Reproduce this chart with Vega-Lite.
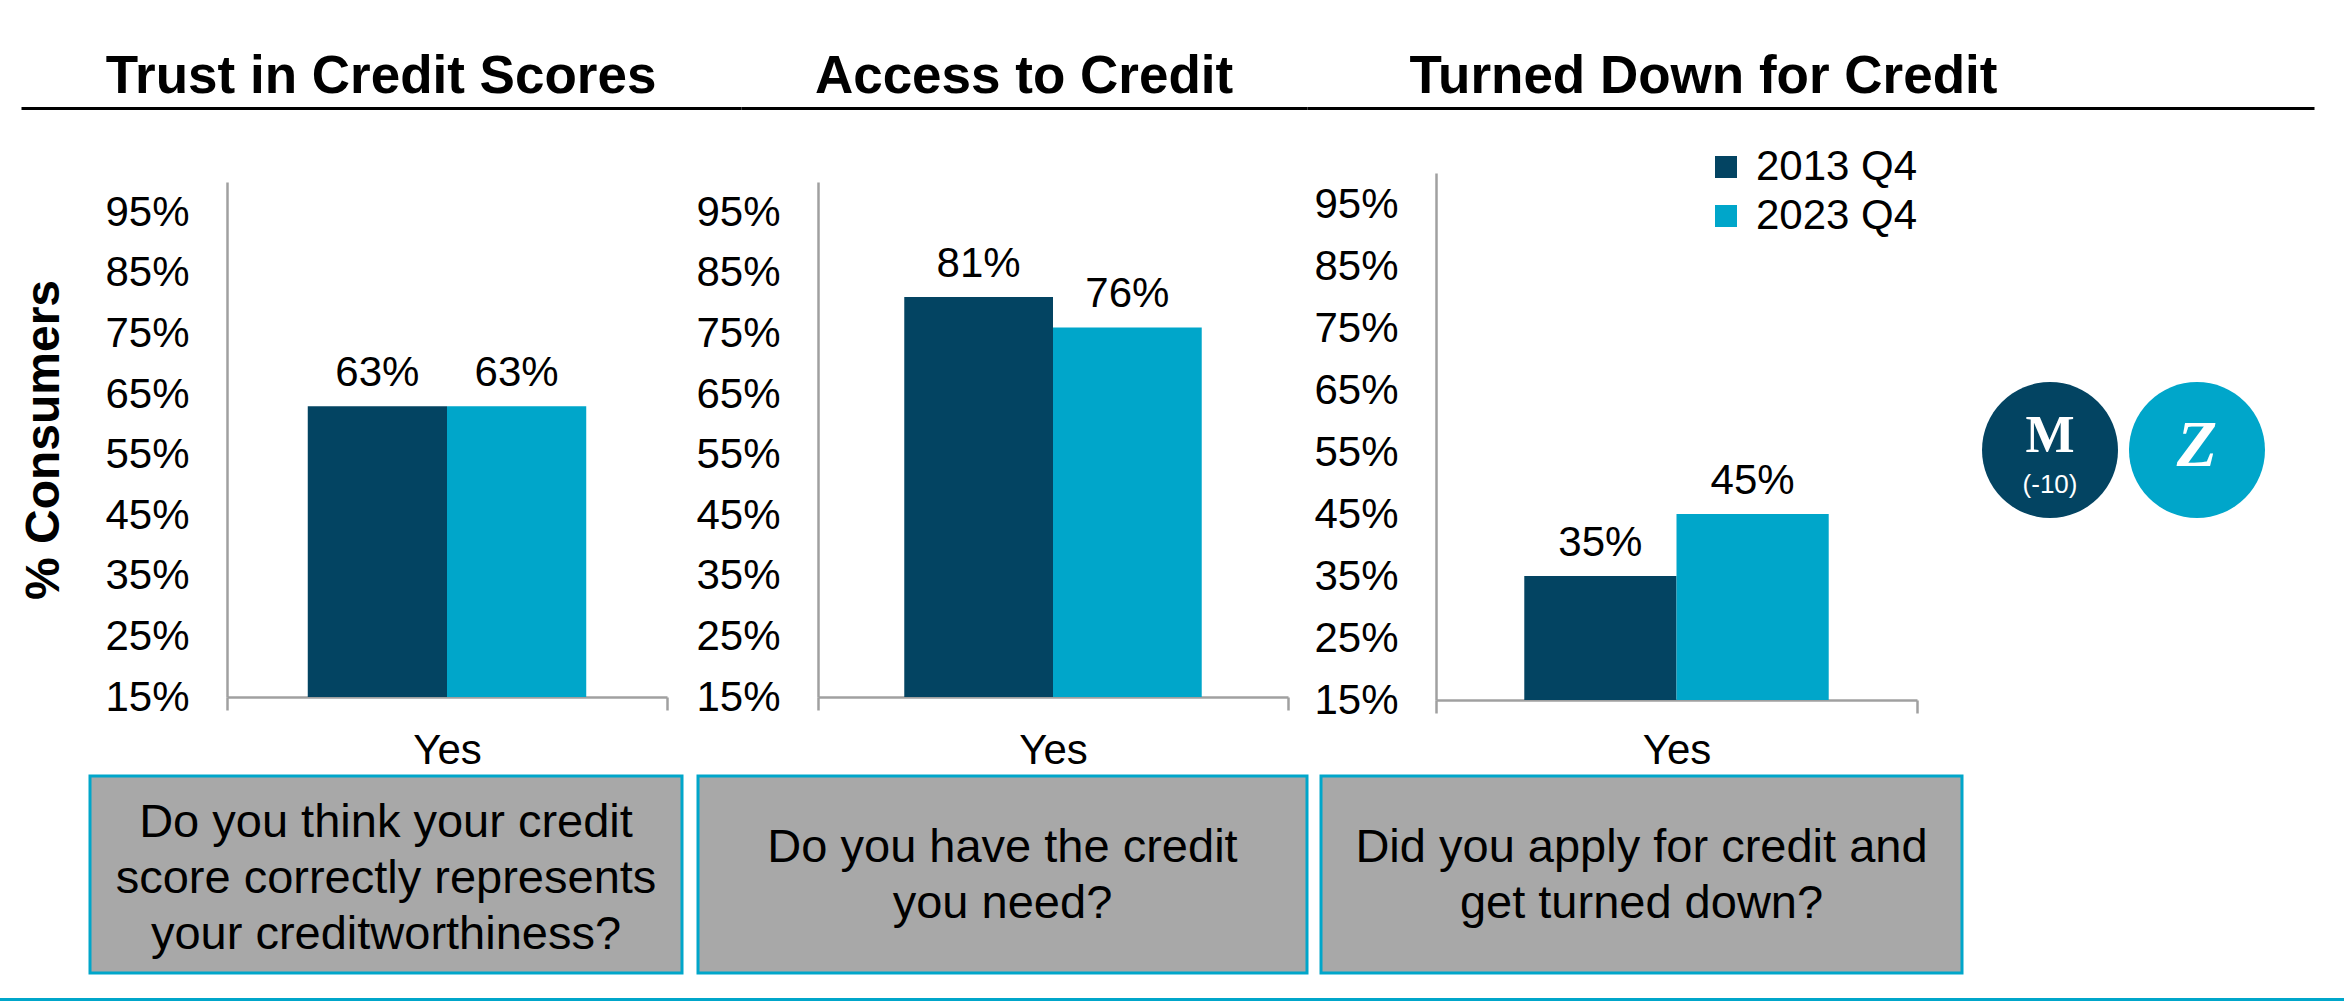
{
  "$schema": "https://vega.github.io/schema/vega-lite/v6.json",
  "padding": 0,
  "background": "white",
  "spacing": 0,
  "align": "each",
  "resolve": {
    "scale": {"color": "independent", "x": "independent", "y": "independent", "xOffset": "independent"},
    "legend": {"color": "independent"},
    "axis": {"x": "independent", "y": "independent"}
  },
  "config": {
    "view": {"stroke": null},
    "font": "Liberation Sans",
    "axis": {"labelColor": "black", "labelFont": "Liberation Sans", "titleColor": "black", "titleFont": "Liberation Sans"}
  },
  "datasets": {
    "survey": [
      {"chart": "Trust in Credit Scores", "answer": "Yes", "period": "2013 Q4", "share": 0.63},
      {"chart": "Trust in Credit Scores", "answer": "Yes", "period": "2023 Q4", "share": 0.63},
      {"chart": "Access to Credit", "answer": "Yes", "period": "2013 Q4", "share": 0.81},
      {"chart": "Access to Credit", "answer": "Yes", "period": "2023 Q4", "share": 0.76},
      {"chart": "Turned Down for Credit", "answer": "Yes", "period": "2013 Q4", "share": 0.35},
      {"chart": "Turned Down for Credit", "answer": "Yes", "period": "2023 Q4", "share": 0.45}
    ],
    "questions": [
      {"chart": "Trust in Credit Scores", "question": "Do you think your credit\nscore correctly represents\nyour creditworthiness?"},
      {"chart": "Access to Credit", "question": "Do you have the credit\nyou need?"},
      {"chart": "Turned Down for Credit", "question": "Did you apply for credit and\nget turned down?"}
    ],
    "logos": [
      {"logo": "M", "note": "(-10)"},
      {"logo": "Z", "note": ""}
    ]
  },
  "vconcat": [
    {
      "spacing": 0,
      "bounds": "flush",
      "hconcat": [
        {"data": {"values": []}, "mark": "text", "encoding": {}, "width": 21, "height": 1},
        {
          "width": 720, "height": 126,
          "data": {"name": "questions"},
          "transform": [{"filter": "datum.chart === 'Trust in Credit Scores'"}],
          "mark": {"type": "text", "fontSize": 53, "fontWeight": "bold", "font": "Liberation Sans", "color": "black", "baseline": "alphabetic", "dy": 30},
          "encoding": {
            "x": {"field": "chart", "type": "nominal", "scale": {"paddingInner": 0, "paddingOuter": 0}, "axis": {"orient": "bottom", "offset": -18, "labels": false, "ticks": false, "title": null, "domainColor": "black", "domainWidth": 3}},
            "text": {"field": "chart"}
          }
        },
        {
          "width": 566, "height": 126,
          "data": {"name": "questions"},
          "transform": [{"filter": "datum.chart === 'Access to Credit'"}],
          "mark": {"type": "text", "fontSize": 53, "fontWeight": "bold", "font": "Liberation Sans", "color": "black", "baseline": "alphabetic", "dy": 30},
          "encoding": {
            "x": {"field": "chart", "type": "nominal", "scale": {"paddingInner": 0, "paddingOuter": 0}, "axis": {"orient": "bottom", "offset": -18, "labels": false, "ticks": false, "title": null, "domainColor": "black", "domainWidth": 3}},
            "text": {"field": "chart"}
          }
        },
        {
          "width": 1007, "height": 126,
          "data": {"name": "questions"},
          "transform": [{"filter": "datum.chart === 'Turned Down for Credit'"}],
          "mark": {"type": "text", "fontSize": 53, "fontWeight": "bold", "font": "Liberation Sans", "color": "black", "baseline": "alphabetic", "dy": 30, "dx": -107},
          "encoding": {
            "x": {"field": "chart", "type": "nominal", "scale": {"paddingInner": 0, "paddingOuter": 0}, "axis": {"orient": "bottom", "offset": -18, "labels": false, "ticks": false, "title": null, "domainColor": "black", "domainWidth": 3}},
            "text": {"field": "chart"}
          }
        }
      ]
    },
    {
      "spacing": 0,
      "bounds": "flush",
      "resolve": {
        "scale": {"color": "independent", "x": "independent", "y": "independent", "xOffset": "independent"},
        "legend": {"color": "independent"},
        "axis": {"x": "independent", "y": "independent"}
      },
      "hconcat": [
        {"data": {"values": []}, "mark": "text", "encoding": {}, "width": 227, "height": 1},
        {
          "width": 440, "height": 648,
          "data": {"name": "survey"},
          "transform": [{"filter": "datum.chart === 'Trust in Credit Scores'"}],
          "encoding": {
            "x": {"field": "answer", "type": "nominal", "scale": {"paddingInner": 0, "paddingOuter": 0},
                  "axis": {"orient": "bottom", "offset": -77, "title": null, "labelAngle": 0, "labelFontSize": 42, "labelPadding": 20, "tickBand": "extent", "tickSize": 13, "tickColor": "#A0A0A0", "tickWidth": 2.5, "domainColor": "#A0A0A0", "domainWidth": 2.5}},
            "xOffset": {"field": "period", "type": "nominal", "scale": {"paddingInner": 0, "paddingOuter": 0.58}},
            "y": {"field": "share", "type": "quantitative", "scale": {"domain": [0.15, 1], "range": [571, 56], "zero": false, "nice": false},
                  "axis": {"values": [0.15, 0.25, 0.35, 0.45, 0.55, 0.65, 0.75, 0.85, 0.95], "format": ".0%", "grid": false, "ticks": false, "tickSize": 0, "labelFontSize": 42, "labelPadding": 38, "domainColor": "#A0A0A0", "domainWidth": 2.5, "title": "% Consumers", "titleFontSize": 48, "titleFontWeight": "bold", "titlePadding": 36}}
          },
          "layer": [
            {"mark": {"type": "bar"}, "encoding": {"y2": {"datum": 0.15}, "color": {"field": "period", "type": "nominal", "scale": {"domain": ["2013 Q4", "2023 Q4"], "range": ["#034462", "#00A6CA"]}, "legend": null}}},
            {"mark": {"type": "text", "fontSize": 42, "font": "Liberation Sans", "color": "black", "baseline": "alphabetic", "dy": -20}, "encoding": {"text": {"field": "share", "format": ".0%"}}}
          ]
        },
        {"data": {"values": []}, "mark": "text", "encoding": {}, "width": 151, "height": 1},
        {
          "width": 470, "height": 648,
          "data": {"name": "survey"},
          "transform": [{"filter": "datum.chart === 'Access to Credit'"}],
          "encoding": {
            "x": {"field": "answer", "type": "nominal", "scale": {"paddingInner": 0, "paddingOuter": 0},
                  "axis": {"orient": "bottom", "offset": -77, "title": null, "labelAngle": 0, "labelFontSize": 42, "labelPadding": 20, "tickBand": "extent", "tickSize": 13, "tickColor": "#A0A0A0", "tickWidth": 2.5, "domainColor": "#A0A0A0", "domainWidth": 2.5}},
            "xOffset": {"field": "period", "type": "nominal", "scale": {"paddingInner": 0, "paddingOuter": 0.58}},
            "y": {"field": "share", "type": "quantitative", "scale": {"domain": [0.15, 1], "range": [571, 56], "zero": false, "nice": false},
                  "axis": {"values": [0.15, 0.25, 0.35, 0.45, 0.55, 0.65, 0.75, 0.85, 0.95], "format": ".0%", "grid": false, "ticks": false, "tickSize": 0, "labelFontSize": 42, "labelPadding": 38, "domainColor": "#A0A0A0", "domainWidth": 2.5, "title": null}}
          },
          "layer": [
            {"mark": {"type": "bar"}, "encoding": {"y2": {"datum": 0.15}, "color": {"field": "period", "type": "nominal", "scale": {"domain": ["2013 Q4", "2023 Q4"], "range": ["#034462", "#00A6CA"]}, "legend": null}}},
            {"mark": {"type": "text", "fontSize": 42, "font": "Liberation Sans", "color": "black", "baseline": "alphabetic", "dy": -20}, "encoding": {"text": {"field": "share", "format": ".0%"}}}
          ]
        },
        {"data": {"values": []}, "mark": "text", "encoding": {}, "width": 148, "height": 1},
        {
          "width": 481, "height": 648,
          "data": {"name": "survey"},
          "transform": [{"filter": "datum.chart === 'Turned Down for Credit'"}],
          "encoding": {
            "x": {"field": "answer", "type": "nominal", "scale": {"paddingInner": 0, "paddingOuter": 0},
                  "axis": {"orient": "bottom", "offset": -74, "title": null, "labelAngle": 0, "labelFontSize": 42, "labelPadding": 17, "tickBand": "extent", "tickSize": 13, "tickColor": "#A0A0A0", "tickWidth": 2.5, "domainColor": "#A0A0A0", "domainWidth": 2.5}},
            "xOffset": {"field": "period", "type": "nominal", "scale": {"paddingInner": 0, "paddingOuter": 0.58}},
            "y": {"field": "share", "type": "quantitative", "scale": {"domain": [0.15, 1], "range": [574, 47], "zero": false, "nice": false},
                  "axis": {"values": [0.15, 0.25, 0.35, 0.45, 0.55, 0.65, 0.75, 0.85, 0.95], "format": ".0%", "grid": false, "ticks": false, "tickSize": 0, "labelFontSize": 42, "labelPadding": 38, "domainColor": "#A0A0A0", "domainWidth": 2.5, "title": null}}
          },
          "layer": [
            {"mark": {"type": "bar"}, "encoding": {"y2": {"datum": 0.15}, "color": {"field": "period", "type": "nominal", "scale": {"domain": ["2013 Q4", "2023 Q4"], "range": ["#034462", "#00A6CA"]},
              "legend": {"orient": "none", "legendX": 269, "legendY": 20, "title": null, "padding": 0, "symbolType": "square", "symbolSize": 484, "symbolStrokeWidth": 0, "labelFontSize": 42, "labelFont": "Liberation Sans", "labelColor": "black", "labelOffset": 9, "rowPadding": 7, "labelLimit": 0}}}},
            {"mark": {"type": "text", "fontSize": 42, "font": "Liberation Sans", "color": "black", "baseline": "alphabetic", "dy": -20}, "encoding": {"text": {"field": "share", "format": ".0%"}}}
          ]
        },
        {
          "width": 413, "height": 648,
          "data": {"name": "logos"},
          "encoding": {"x": {"field": "logo", "type": "nominal", "scale": {"type": "point", "padding": 0.905}, "axis": null}},
          "layer": [
            {"mark": {"type": "point", "filled": true, "shape": "circle", "size": 18496, "opacity": 1}, "encoding": {"color": {"field": "logo", "type": "nominal", "scale": {"domain": ["M", "Z"], "range": ["#034462", "#00A6CA"]}, "legend": null}}},
            {"transform": [{"filter": "datum.logo === 'M'"}], "mark": {"type": "text", "font": "Liberation Serif", "fontWeight": "bold", "fontSize": 52, "color": "white", "baseline": "alphabetic", "dy": 2}, "encoding": {"text": {"field": "logo"}}},
            {"transform": [{"filter": "datum.logo === 'Z'"}], "mark": {"type": "text", "font": "Liberation Serif", "fontStyle": "italic", "fontWeight": "bold", "fontSize": 66, "color": "white", "baseline": "alphabetic", "dy": 16}, "encoding": {"text": {"field": "logo"}}},
            {"mark": {"type": "text", "font": "Liberation Sans", "fontSize": 26, "color": "white", "baseline": "alphabetic", "dy": 43}, "encoding": {"text": {"field": "note"}}}
          ]
        }
      ]
    },
    {
      "spacing": 0,
      "bounds": "flush",
      "hconcat": [
        {"data": {"values": []}, "mark": "text", "encoding": {}, "width": 90, "height": 222},
        {
          "width": 592, "height": 197,
          "view": {"fill": "#A8A8A8", "stroke": "#00A6CA", "strokeWidth": 3},
          "data": {"name": "questions"},
          "transform": [{"filter": "datum.chart === 'Trust in Credit Scores'"}],
          "mark": {"type": "text", "fontSize": 47, "font": "Liberation Sans", "color": "black", "lineBreak": "\n", "lineHeight": 56, "baseline": "middle", "dy": -52},
          "encoding": {"text": {"field": "question"}}
        },
        {"data": {"values": []}, "mark": "text", "encoding": {}, "width": 16, "height": 1},
        {
          "width": 609, "height": 197,
          "view": {"fill": "#A8A8A8", "stroke": "#00A6CA", "strokeWidth": 3},
          "data": {"name": "questions"},
          "transform": [{"filter": "datum.chart === 'Access to Credit'"}],
          "mark": {"type": "text", "fontSize": 47, "font": "Liberation Sans", "color": "black", "lineBreak": "\n", "lineHeight": 56, "baseline": "middle", "dy": -27},
          "encoding": {"text": {"field": "question"}}
        },
        {"data": {"values": []}, "mark": "text", "encoding": {}, "width": 14, "height": 1},
        {
          "width": 641, "height": 197,
          "view": {"fill": "#A8A8A8", "stroke": "#00A6CA", "strokeWidth": 3},
          "data": {"name": "questions"},
          "transform": [{"filter": "datum.chart === 'Turned Down for Credit'"}],
          "mark": {"type": "text", "fontSize": 47, "font": "Liberation Sans", "color": "black", "lineBreak": "\n", "lineHeight": 56, "baseline": "middle", "dy": -27},
          "encoding": {"text": {"field": "question"}}
        }
      ]
    },
    {"data": {"values": []}, "mark": "text", "encoding": {}, "width": 2344, "height": 5, "view": {"fill": "#00A6CA", "stroke": null}}
  ]
}
